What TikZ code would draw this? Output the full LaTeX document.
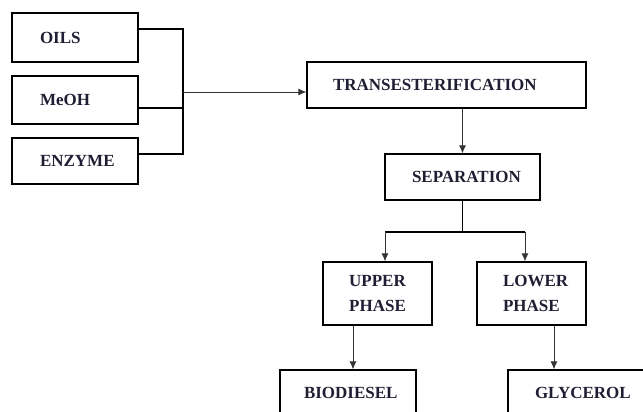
\documentclass[tikz,border=0pt]{standalone}
\usepackage{fontspec}
\setmainfont{Liberation Serif}
\usetikzlibrary{arrows.meta,positioning,calc}
\definecolor{ink}{HTML}{1F1F33}
\definecolor{wire}{HTML}{333333}
\tikzset{stepbox/.style={draw=black,line width=1.3pt,font=\bfseries\fontsize{17}{25}\selectfont,text=ink,minimum height=46pt,align=left,inner ysep=0pt},
  flow/.style={draw=wire,line width=0.9pt},
  bracket/.style={draw=black,line width=1.2pt},
  feed/.style={flow,-{Latex[length=8pt,width=7pt]}}}

\begin{document}
\begin{tikzpicture}[x=1pt,y=-1pt]
\useasboundingbox (0,0) rectangle (643,412);\clip (0,0) rectangle (643,412);
\node[stepbox,inner xsep=28pt,text width=70pt,minimum height=49pt] (oils) at (75,37.5){OILS};
\node[stepbox,inner xsep=28pt,text width=70pt,minimum height=48pt] (meoh) at (75,100){MeOH};
\node[stepbox,inner xsep=28pt,text width=70pt] (enzyme) at (75,161){ENZYME};
\node[stepbox,inner xsep=26pt,text width=227pt] (trans) at (446.5,85){TRANSESTERIFICATION};
\node[stepbox,inner xsep=27pt,text width=101pt] (sep) at (462.5,177){SEPARATION};
\node[stepbox,inner xsep=10pt,text width=89pt,minimum height=63pt,align=center] (upper) at (377.5,293.5){UPPER\\PHASE};
\node[stepbox,inner xsep=26pt,text width=57pt,minimum height=63pt] (lower) at (531.5,293.5){LOWER\\PHASE};
\node[stepbox,inner xsep=24pt,text width=88pt] (bio) at (348,393){BIODIESEL};
\node[stepbox,inner xsep=27pt,text width=82pt] (gly) at (576,393){GLYCEROL};
\coordinate (join) at (183,92);
\coordinate (oilsout) at ([yshift=8.5pt]oils.east);
\coordinate (meohout) at ([yshift=-8pt]meoh.east);
\coordinate (enzout) at ([yshift=7pt]enzyme.east);
\coordinate (split) at (462.5,232);\coordinate (lft) at (385,232);\coordinate (rgt) at (525,232);
\coordinate (upout) at ([xshift=-24.5pt]upper.south);
\coordinate (lowout) at ([xshift=22.5pt]lower.south);
\draw[bracket] (oilsout) -| (join |- enzout) -- (enzout);
\draw[bracket] (meohout) -- (join |- meohout);
\draw[feed] (join) -- (trans.west |- join);
\draw[feed] (sep.north |- trans.south) -- (sep.north);
\draw[bracket] (sep.south) -- (split) (lft) -- (rgt);
\draw[feed] (lft) -- (lft |- upper.north);
\draw[feed] (rgt) -- (rgt |- lower.north);
\draw[feed] (upout) -- (upout |- bio.north);
\draw[feed] (lowout) -- (lowout |- gly.north);
\end{tikzpicture}
\end{document}
